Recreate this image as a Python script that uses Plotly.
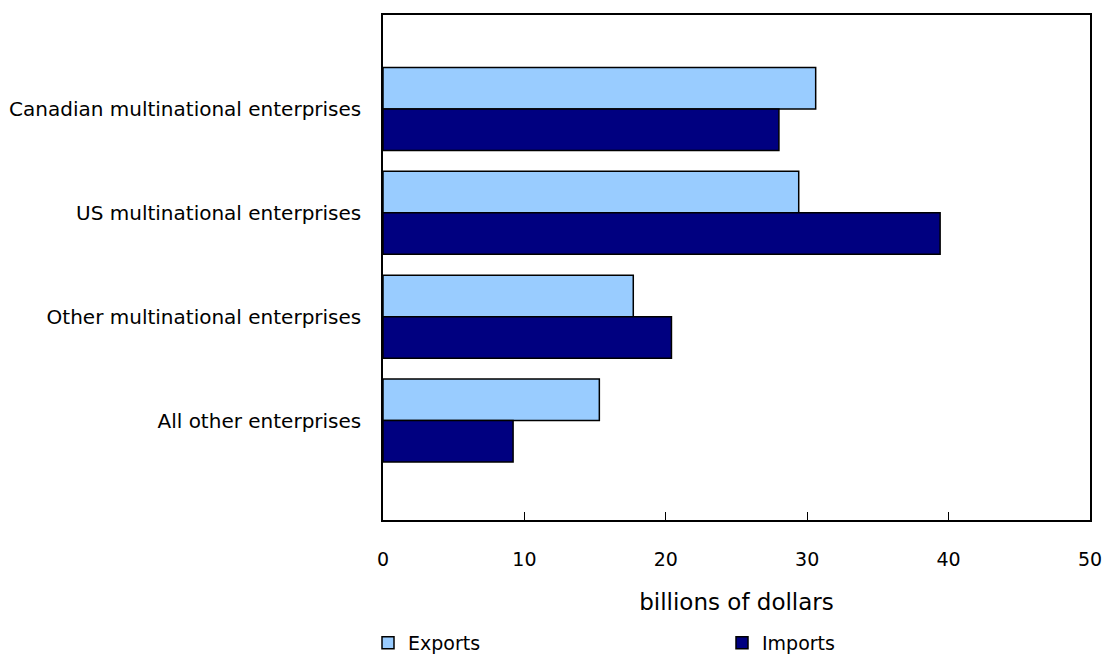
import plotly.graph_objects as go

categories = ["Canadian multinational enterprises", "US multinational enterprises",
              "Other multinational enterprises", "All other enterprises"]
exports = [30.6, 29.4, 17.7, 15.3]
imports = [28.0, 39.4, 20.4, 9.2]

W, H = 1105, 656

fig = go.Figure()
fig.add_trace(go.Bar(name="Exports", y=categories, x=exports, orientation="h",
                     marker=dict(color="#99CCFF", line=dict(color="black", width=1.5))))
fig.add_trace(go.Bar(name="Imports", y=categories, x=imports, orientation="h",
                     marker=dict(color="#000080", line=dict(color="black", width=1.5))))

fig.update_layout(
    width=W, height=H,
    margin=dict(l=383, r=15, t=15, b=136),
    plot_bgcolor="white", paper_bgcolor="white",
    barmode="group", bargap=0.2, bargroupgap=0,
    font=dict(family="DejaVu Sans, Verdana, sans-serif", size=19, color="black"),
    showlegend=True,
    legend=dict(orientation="h", xref="container", yref="container",
                x=368 / W, xanchor="left", y=1 - 643 / H, yanchor="middle",
                entrywidth=309, traceorder="normal", font=dict(size=19)),
    xaxis=dict(range=[0, 50], tickvals=[0, 10, 20, 30, 40, 50], ticks="inside", ticklen=8,
               tickcolor="black", showline=True, linecolor="black", linewidth=1.5,
               mirror=True, showgrid=False, zeroline=False, automargin=False,
               ticklabelstandoff=21, ticklabeloverflow="allow",
               title=dict(text="billions of dollars", standoff=25)),
    yaxis=dict(range=[3.958, -0.905], showline=True, linecolor="black", linewidth=1.5,
               mirror=True, showgrid=False, ticks="", ticklabelstandoff=16,
               tickfont=dict(size=20), automargin=False),
)

fig.write_html("out.html", config={"displayModeBar": False},
               post_script="document.body.style.margin='0';document.body.style.overflow='hidden';")
